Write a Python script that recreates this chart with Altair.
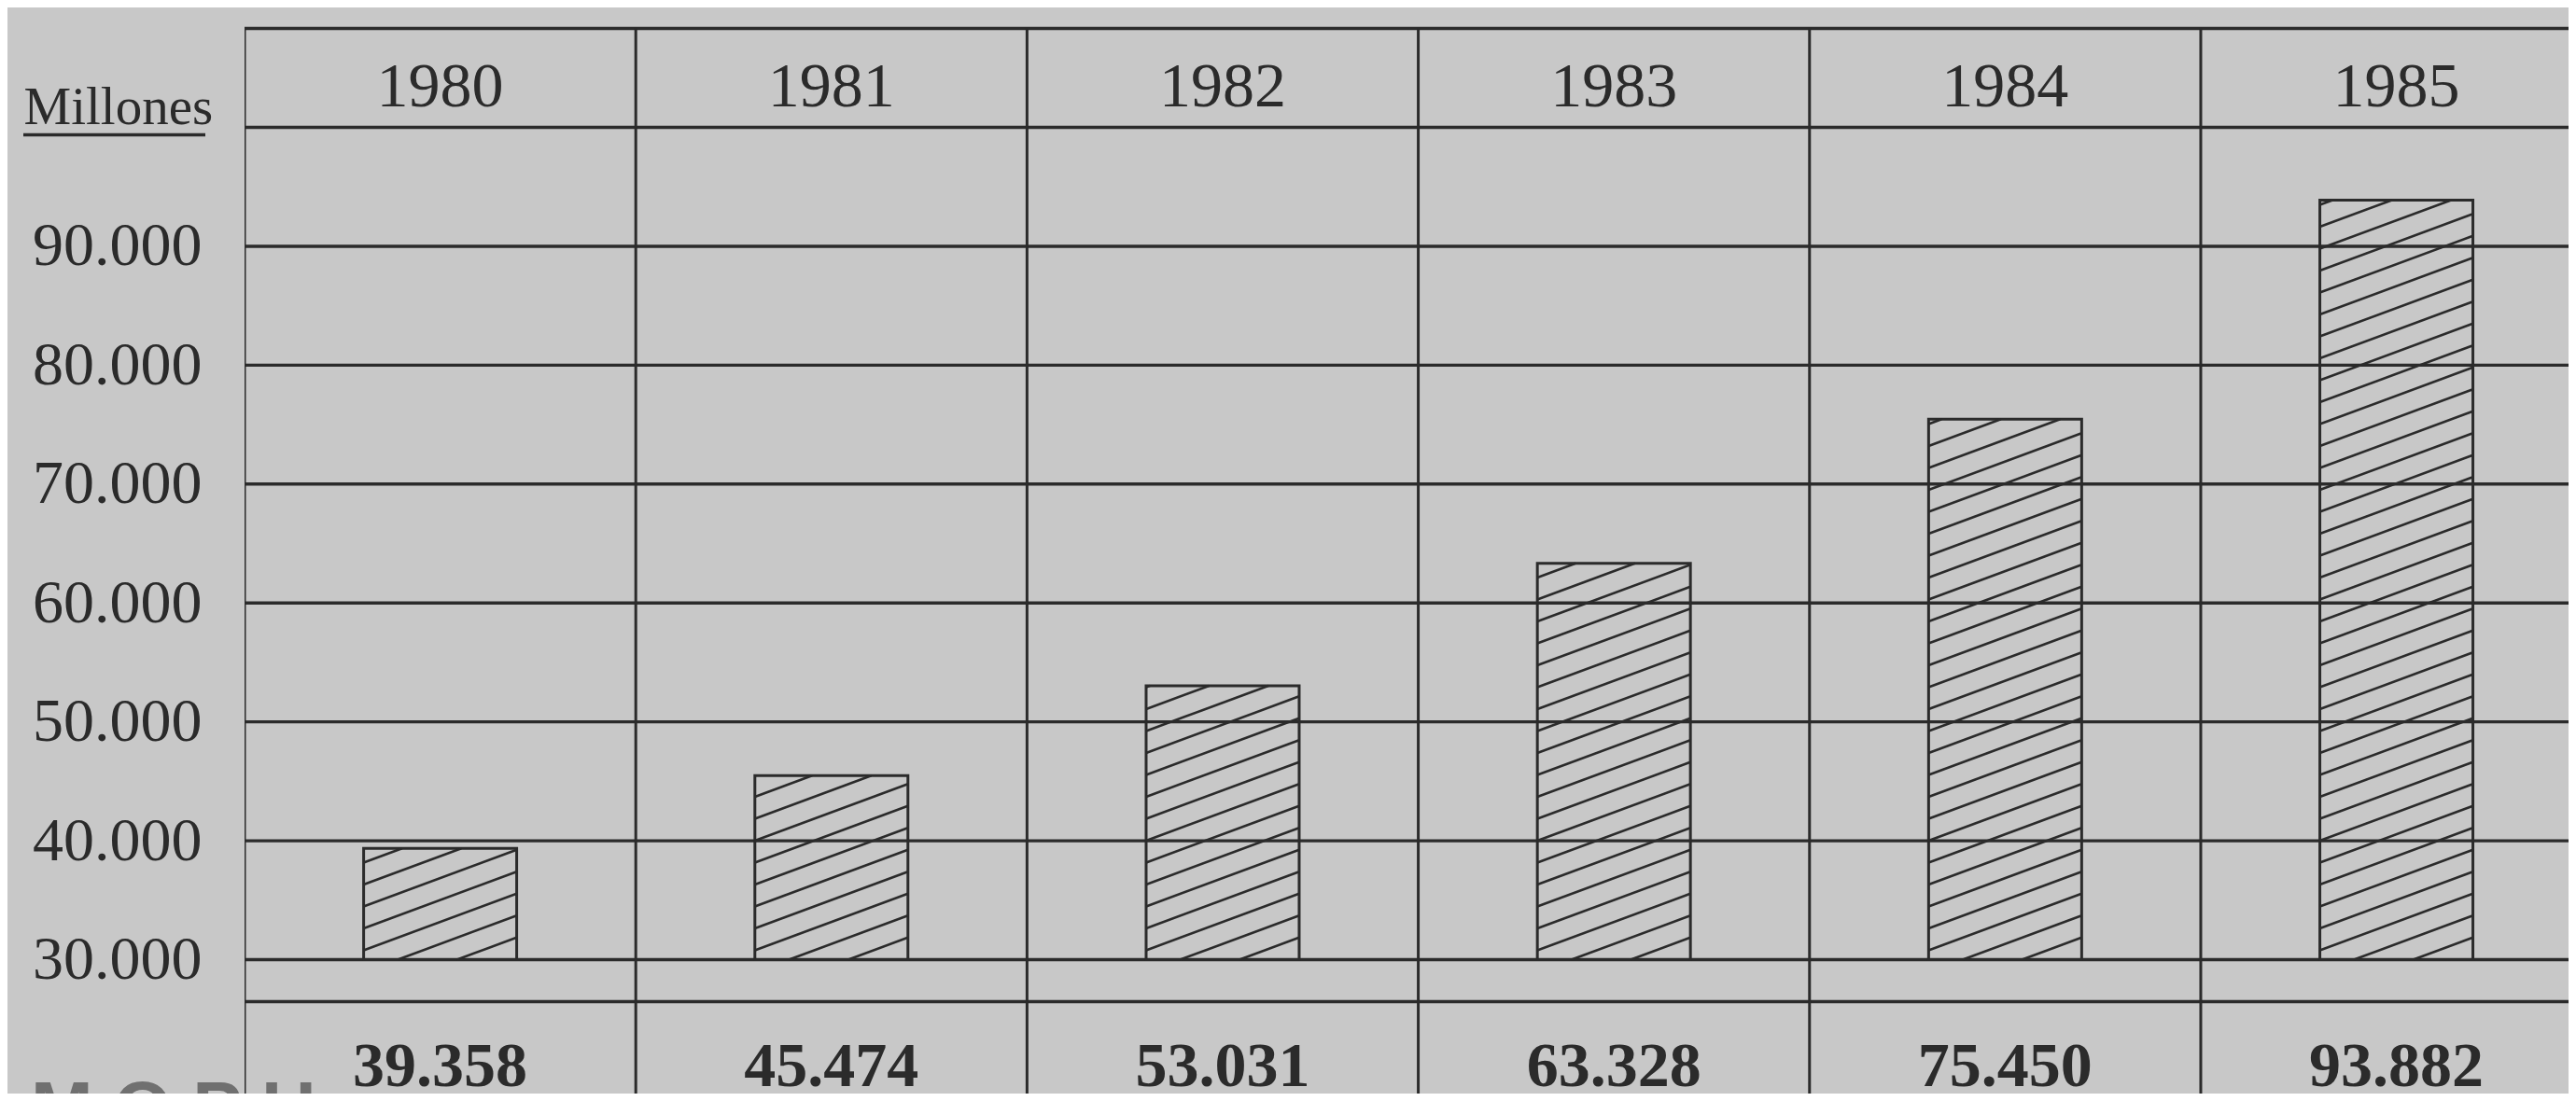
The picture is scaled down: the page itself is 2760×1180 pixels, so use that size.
import altair as alt
import numpy as np
import pandas as pd

# ---------------- data ----------------
years = [1980, 1981, 1982, 1983, 1984, 1985]
values = [39358, 45474, 53031, 63328, 75450, 93882]
y_tick_values = [30000, 40000, 50000, 60000, 70000, 80000, 90000]
grid_values = [30000, 40000, 50000, 60000, 70000, 80000, 90000, 100000]
column_edges = [1979.5, 1980.5, 1981.5, 1982.5, 1983.5, 1984.5, 1985.5]
unit_label = "Millones"
footer_text = "M O P U"

# ---------------- layout / style ----------------
BG = "#c8c8c8"
INK = "#2b2b2b"
SERIF = "Liberation Serif"

W_PLOT = 2490
H_PLOT = 1164
X_DOMAIN = [1979.5, 1985.44]
Y_DOMAIN = [18740, 110084]
PX_PER_YEAR = W_PLOT / (X_DOMAIN[1] - X_DOMAIN[0])
PX_PER_UNIT = H_PLOT / (Y_DOMAIN[1] - Y_DOMAIN[0])

TOP_BORDER = 108318
STRIP_LINE = 26470
BASE = 30000
HEADER_Y = 101770
VALUE_Y = 19350
HALF = 0.1956          # half bar width, in years
SLOPE = 0.37           # hatch slope (pixel space)
SPACING = 23.5         # hatch vertical spacing (px)
PHASE = 10.0

xs = alt.Scale(domain=X_DOMAIN, nice=False, zero=False)
ys = alt.Scale(domain=Y_DOMAIN, nice=False, zero=False)

yaxis = alt.Axis(
    values=y_tick_values,
    labelExpr="replace(format(datum.value, ','), ',', '.')",
    labelFont=SERIF, labelFontSize=66, labelColor=INK, labelBaseline="middle",
    labelLimit=500, labelOverlap=False,
    labelPadding=46, ticks=False, tickSize=0, domain=False, grid=False,
    title=unit_label, titleAngle=0, titleAlign="left", titleBaseline="alphabetic",
    titleX=-237, titleY=124.5, titleFont=SERIF, titleFontSize=57,
    titleFontWeight="normal", titleColor=INK, titleLimit=500,
)

bars_df = pd.DataFrame({"year": years, "value": values})

# hatch segments derived from bar extents
rows = []
W = 2 * HALF * PX_PER_YEAR
for yr, v in zip(years, values):
    H = (v - BASE) * PX_PER_UNIT
    k = int(np.floor((-SLOPE * W - PHASE) / SPACING))
    while True:
        c = PHASE + k * SPACING
        if c >= H:
            break
        if c < 0:
            xs0, ys0 = -c / SLOPE, 0.0
        else:
            xs0, ys0 = 0.0, c
        ye = c + SLOPE * W
        if ye > H:
            xe, ye = (H - c) / SLOPE, H
        else:
            xe = W
        if xe > xs0 + 1:
            rows.append({
                "x": yr - HALF + xs0 / PX_PER_YEAR,
                "x2": yr - HALF + xe / PX_PER_YEAR,
                "y": BASE + ys0 / PX_PER_UNIT,
                "y2": BASE + ye / PX_PER_UNIT,
            })
        k += 1
hatch_df = pd.DataFrame(rows)

hlines_df = pd.DataFrame({"y": grid_values + [TOP_BORDER, STRIP_LINE]})
hlines_df["xa"] = column_edges[0]
hlines_df["xb"] = column_edges[-1]
vlines_df = pd.DataFrame({"x": column_edges})
vlines_df["ya"] = TOP_BORDER
vlines_df["yb"] = Y_DOMAIN[0]

hlines = alt.Chart(hlines_df).mark_rule(color=INK, strokeWidth=3.4, clip=True).encode(
    y=alt.Y("y:Q", scale=ys, axis=yaxis),
    x=alt.X("xa:Q", scale=xs, axis=None),
    x2="xb:Q",
)

vlines = alt.Chart(vlines_df).mark_rule(color=INK, strokeWidth=3, clip=True).encode(
    x=alt.X("x:Q", scale=xs, axis=None),
    y=alt.Y("ya:Q", scale=ys, axis=yaxis),
    y2="yb:Q",
)

underline = alt.Chart(bars_df.head(1)).mark_rule(color=INK, strokeWidth=3.5).encode(
    x=alt.value(-237), x2=alt.value(-42), y=alt.value(136.5)
)

bars = alt.Chart(bars_df).transform_calculate(
    x0=f"datum.year - {HALF}", x1=f"datum.year + {HALF}", base=f"{BASE}"
).mark_rect(fill=BG, fillOpacity=0, stroke=INK, strokeWidth=3).encode(
    x=alt.X("x0:Q", scale=xs, axis=None),
    x2="x1:Q",
    y=alt.Y("base:Q", scale=ys, axis=yaxis),
    y2="value:Q",
)

hatch = alt.Chart(hatch_df).mark_rule(color=INK, strokeWidth=2.6).encode(
    x=alt.X("x:Q", scale=xs, axis=None), x2="x2:Q",
    y=alt.Y("y:Q", scale=ys, axis=yaxis), y2="y2:Q",
)

year_text = alt.Chart(bars_df).transform_calculate(
    hy=f"{HEADER_Y}"
).mark_text(
    font=SERIF, fontSize=68, color=INK, baseline="alphabetic", align="center"
).encode(
    x=alt.X("year:Q", scale=xs, axis=None),
    y=alt.Y("hy:Q", scale=ys, axis=yaxis),
    text=alt.Text("year:N"),
)

value_text = alt.Chart(bars_df).transform_calculate(
    label="replace(format(datum.value, ','), ',', '.')", vy=f"{VALUE_Y}"
).mark_text(
    font=SERIF, fontSize=68, fontWeight="bold", color=INK,
    baseline="alphabetic", align="center"
).encode(
    x=alt.X("year:Q", scale=xs, axis=None),
    y=alt.Y("vy:Q", scale=ys, axis=yaxis),
    text="label:N",
)

footer = alt.Chart(bars_df.head(1)).mark_text(
    font="Liberation Sans", fontSize=80, fontWeight="bold", color="#707070",
    baseline="top", align="left", text=footer_text
).encode(x=alt.value(-229), y=alt.value(1144))

chart = alt.layer(
    footer, hlines, vlines, bars, hatch, underline, year_text, value_text
).properties(
    width=W_PLOT, height=H_PLOT,
    padding={"left": 254, "top": 0, "right": 0, "bottom": 0},
    autosize=alt.AutoSizeParams(type="none"),
    background=BG,
).configure_view(stroke=None)

chart.save("out.html", embed_options={"renderer": "svg", "actions": False})
